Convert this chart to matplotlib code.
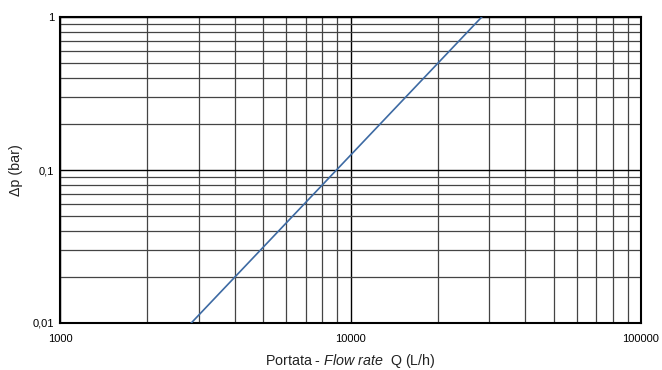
import matplotlib
matplotlib.use("Agg")
import matplotlib.pyplot as plt
from matplotlib.ticker import FixedLocator, LogLocator, NullFormatter, FixedFormatter

plt.rcParams['font.family'] = ['Liberation Sans', 'DejaVu Sans']
plt.rcParams['mathtext.fontset'] = 'custom'
plt.rcParams['mathtext.rm'] = 'Liberation Sans'
plt.rcParams['mathtext.it'] = 'Liberation Sans:italic'

# Data: flow rate (L/h) vs pressure drop (bar)
flow_rate = [2830, 28300]
pressure_drop = [0.01, 1.0]

x_ticks = [1000, 10000, 100000]
x_tick_labels = ["1000", "10000", "100000"]
y_ticks = [0.01, 0.1, 1]
y_tick_labels = ["0,01", "0,1", "1"]

fig = plt.figure(figsize=(6.62, 3.70), dpi=100)
ax = fig.add_axes([60/662, 1-323/370, (641-60)/662, (323-17)/370])

ax.set_xscale('log')
ax.set_yscale('log')
ax.set_xlim(1000, 100000)
ax.set_ylim(0.01, 1)

ax.xaxis.set_major_locator(FixedLocator(x_ticks))
ax.xaxis.set_major_formatter(FixedFormatter(x_tick_labels))
ax.yaxis.set_major_locator(FixedLocator(y_ticks))
ax.yaxis.set_major_formatter(FixedFormatter(y_tick_labels))
ax.xaxis.set_minor_locator(LogLocator(base=10, subs=range(2, 10)))
ax.yaxis.set_minor_locator(LogLocator(base=10, subs=range(2, 10)))
ax.xaxis.set_minor_formatter(NullFormatter())
ax.yaxis.set_minor_formatter(NullFormatter())

ax.grid(True, which='major', color='black', lw=1.0)
ax.grid(True, which='minor', color='#444444', lw=0.9)
ax.tick_params(which='both', length=0)
ax.tick_params(axis='x', pad=8, labelsize=8)
ax.tick_params(axis='y', pad=4, labelsize=8)

for s in ax.spines.values():
    s.set_color('black')
    s.set_linewidth(1.5)

ax.plot(flow_rate, pressure_drop, color='#3d6aa3', lw=1.2, zorder=3)

ax.set_xlabel(r"Portata - $\mathit{Flow\ rate}$  Q (L/h)", fontsize=10.3, labelpad=6, color='#222222')
ax.set_ylabel("Δp (bar)", fontsize=10.3, labelpad=7, color='#222222')

fig.savefig("out.png", dpi=100)
